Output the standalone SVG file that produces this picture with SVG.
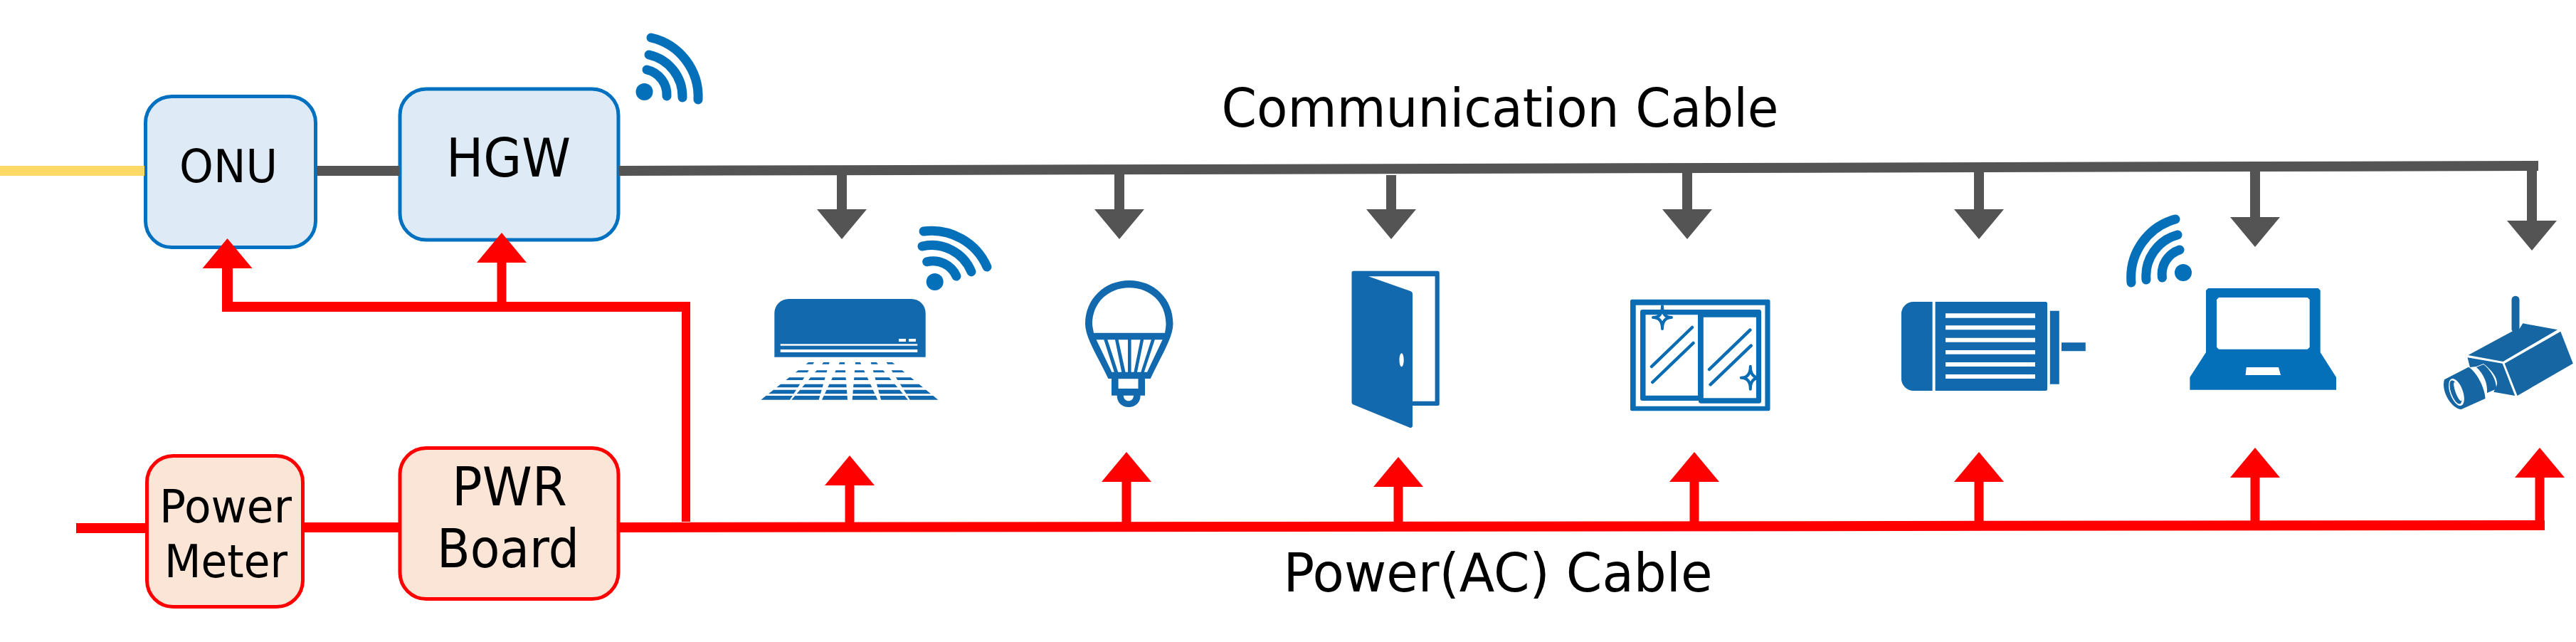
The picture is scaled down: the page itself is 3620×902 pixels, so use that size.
<svg xmlns="http://www.w3.org/2000/svg" width="3620" height="902" viewBox="0 0 3620 902">
<style>
text{font-family:"DejaVu Sans","Verdana",sans-serif;fill:#000;text-anchor:middle}
.s{font-size:64px}.l{font-size:74px}
.blue{fill:#DEEBF7;stroke:#0070C0;stroke-width:5}
.red{fill:#FBE5D6;stroke:#FF0000;stroke-width:5}
.i{fill:#1269AD;fill-rule:evenodd}
.w{fill:none;stroke:#0570BA;stroke-width:13;stroke-linecap:round}
.d{fill:#0570BA}
.g{stroke:#545454;stroke-width:14;fill:none}
.r{stroke:#FF0000;stroke-width:14;fill:none}
.ga{stroke:#545454;stroke-width:14;fill:none;marker-end:url(#ag)}
.ra{stroke:#FF0000;stroke-width:13;fill:none;marker-end:url(#ar)}
</style>
<defs>
<marker id="ag" markerUnits="userSpaceOnUse" orient="auto" refX="0" refY="35" markerWidth="44" markerHeight="70"><path d="M0 0L42 35L0 70z" fill="#545454"/></marker>
<marker id="ar" markerUnits="userSpaceOnUse" orient="auto" refX="0" refY="35" markerWidth="44" markerHeight="70"><path d="M0 0L42 35L0 70z" fill="#FF0000"/></marker>
</defs>
<rect width="3620" height="902" fill="#fff"/>
<g id="onu"><rect class="blue" x="204.500" y="135.500" width="239" height="212" rx="37"/><text class="s" x="321" y="256" textLength="138" lengthAdjust="spacingAndGlyphs">ONU</text></g>
<g id="hgw"><rect class="blue" x="562" y="125" width="307" height="212" rx="37"/><text class="l" x="714.500" y="248" textLength="175" lengthAdjust="spacingAndGlyphs">HGW</text></g>
<g id="meter"><rect class="red" x="206.500" y="640.500" width="219" height="212" rx="37"/><text class="s" x="317" y="734" textLength="186" lengthAdjust="spacingAndGlyphs">Power</text><text class="s" x="317.500" y="811" textLength="173" lengthAdjust="spacingAndGlyphs">Meter</text></g>
<g id="pwr"><rect class="red" x="562" y="629.500" width="307" height="212" rx="37"/><text class="l" x="716" y="710" textLength="162" lengthAdjust="spacingAndGlyphs">PWR</text><text class="l" x="714" y="797" textLength="200" lengthAdjust="spacingAndGlyphs">Board</text></g>
<g id="labels"><text class="l" x="2108" y="178" textLength="783" lengthAdjust="spacingAndGlyphs">Communication Cable</text><text class="l" x="2105" y="831" textLength="603" lengthAdjust="spacingAndGlyphs">Power(AC) Cable</text></g>
<g id="wifi-hgw"><circle class="d" cx="905.500" cy="129" r="12"/><path class="w" d="M909 98A36 36 0 0 1 937 135M912 77A60 60 0 0 1 959 137M915 53A85 85 0 0 1 981 140"/></g>
<g id="wifi-ac"><circle class="d" cx="1313.700" cy="396" r="12"/><path class="w" d="M1302.700 367.700A36 36 0 0 1 1344 388M1296 346A60 60 0 0 1 1365 381.700M1298 325A85 85 0 0 1 1387 375"/></g>
<g id="wifi-laptop"><circle class="d" cx="3068" cy="383" r="12"/><path class="w" d="M3063 351A36 36 0 0 0 3038.500 390M3060 330A60 60 0 0 0 3016 393M3057 308A85 85 0 0 0 2995 397"/></g>
<g id="air-conditioner"><path class="i" d="M1108.300 420H1280.700A20 20 0 0 1 1300.700 440V501.700H1088.300V440A20 20 0 0 1 1108.300 420ZM1096.700 483.300V485.700H1289.300V483.300ZM1096.700 491V495H1289.300V491ZM1263 476V480H1273V476ZM1277 476V480H1287V476Z
M1136 509H1144L1142.300 511.700H1132.600ZM1157.300 509H1165.700L1164.900 511.700H1155ZM1180 509H1187L1187.200 511.700H1178.700ZM1202 509H1209L1210.200 511.700H1201.800ZM1223.700 509H1231.700L1234 511.700H1224.400ZM1245.700 509H1254L1257.300 511.700H1247.400Z
M1121.700 520.300H1136.700L1134.800 523.300H1117.900ZM1147.700 520.300H1162.500L1161.600 523.300H1145.100ZM1174.600 520.300H1187.900L1188.100 523.300H1173.200ZM1201.100 520.300H1214.200L1215.600 523.300H1200.800ZM1226.800 520.300H1241.200L1243.700 523.300H1227.600ZM1252.800 520.300H1267.800L1271.400 523.300H1254.600Z
M1109.100 530.300H1130.300L1127.900 534H1104.400ZM1139.100 530.300H1159.600L1158.600 534H1136ZM1169.900 530.300H1188.600L1188.900 534H1168.200ZM1200.300 530.300H1218.800L1220.500 534H1200ZM1229.500 530.300H1249.600L1252.700 534H1230.500ZM1259 530.300H1280L1284.500 534H1261.300Z
M1097.100 539.700H1124.200L1121.200 544.300H1091.300ZM1131.100 539.700H1157L1155.700 544.300H1127.100ZM1165.400 539.700H1189.300L1189.700 544.300H1163.200ZM1199.500 539.700H1223.200L1225.300 544.300H1199.100ZM1232 539.700H1257.500L1261.400 544.300H1233.300ZM1264.900 539.700H1291.500L1297.100 544.300H1267.800Z
M1087 547.700H1119L1115.400 553.300H1079.900ZM1124.300 547.700H1154.700L1153 553.300H1119.500ZM1161.600 547.700H1189.900L1190.400 553.300H1159ZM1198.800 547.700H1226.800L1229.400 553.300H1198.400ZM1234.200 547.700H1264.200L1269 553.300H1235.700ZM1269.900 547.700H1301.200L1308.100 553.300H1273.500Z
M1076.500 556H1113.700L1110 561.700H1069.300ZM1117.200 556H1152.300L1150.700 561.700H1112.300ZM1157.700 556H1190.600L1191 561.700H1155ZM1198.200 556H1230.700L1233.300 561.700H1197.700ZM1236.500 556H1271.200L1276 561.700H1238ZM1275.100 556H1311.400L1318.300 561.700H1278.700Z"/></g>
<g id="bulb"><path class="i" d="M1557.400 532H1562V555.700H1569.700C1569.700 566 1577 572 1586 572C1595 572 1602.600 566 1602.600 555.700H1609V532H1616.700C1630 503 1648.500 475 1648.500 455C1648.500 420 1622 394 1587 394C1552 394 1525 420 1525 455C1525 475 1544 503 1557.400 532Z
M1537 467.700H1637C1638 462 1638.500 458 1638.500 455C1638.500 425 1616 404.300 1587 404.300C1558 404.300 1535 425 1535 455C1535 458 1536 462 1537 467.700Z
M1540.600 477.300H1551.300L1565.800 522.700H1562.400ZM1556.300 477.300H1567L1576.200 522.700H1571.200ZM1571.600 477.300H1585V522.700H1581.500ZM1589.600 477.300H1602.600L1593.400 522.700H1589.600ZM1607.200 477.300H1617.900L1603.300 522.700H1598ZM1622.800 477.300H1633.600L1612.100 522.700H1607.900Z
M1571.600 532.300H1599.500V546H1571.600ZM1578.800 555.700H1593C1593 560 1590 563.300 1586 563.300C1582 563.300 1578.800 560 1578.800 555.700Z"/></g>
<g id="door"><path class="i" d="M1902 380.700H2020.300A2.500 2.500 0 0 1 2022.800 383.200V567.500A2.500 2.500 0 0 1 2020.300 570H1985V598C1985 600.500 1983 601.500 1981 600.700L1902 568.500C1900.500 568 1899.500 567 1899.500 565V383.200A2.500 2.500 0 0 1 1902 380.700ZM1923 388.300L1982 409C1984 409.800 1985 411 1985 413V563.700H2016.600V388.300ZM1969.600 496.200C1967.800 496.200 1966.500 500.500 1966.500 505.700C1966.500 510.900 1967.800 515.200 1969.600 515.200C1971.400 515.200 1972.700 510.900 1972.700 505.700C1972.700 500.500 1971.400 496.200 1969.600 496.200Z"/></g>
<g id="window">
<path fill="#0A6CB2" fill-rule="evenodd" d="M2293.500 420.700H2485A2.500 2.500 0 0 1 2487.500 423.200V574.800A2.500 2.500 0 0 1 2485 577.300H2293.500A2.500 2.500 0 0 1 2291 574.800V423.200A2.500 2.500 0 0 1 2293.500 420.700ZM2298.700 428.700V570.700H2480.400V428.700ZM2308 435H2472A3 3 0 0 1 2475 438V563.700A3 3 0 0 1 2472 566.700H2390A3 3 0 0 1 2387 563V563H2308A3 3 0 0 1 2305 560V438A3 3 0 0 1 2308 435ZM2312.500 442.300V555.700H2386V442.300ZM2393.800 445.700V559.300H2467.900V445.700Z"/>
<path stroke="#0A6CB2" stroke-width="4.500" stroke-linecap="round" fill="none" d="M2321 515L2378 460M2322.300 537L2379.500 482M2402 519L2459.400 463.700M2403.600 540.300L2460.700 485.700"/>
<path fill="#fff" stroke="#0A6CB2" stroke-width="4" stroke-linejoin="round" d="M2336 430C2336 440 2340 446 2349 446C2340 446 2336 452 2336 462C2336 452 2332 446 2323 446C2332 446 2336 440 2336 430Z"/>
<path fill="#fff" stroke="#0A6CB2" stroke-width="4" stroke-linejoin="round" d="M2459.800 514.700C2459.800 524.700 2463.800 530.700 2472.800 530.700C2463.800 530.700 2459.800 536.700 2459.800 546.700C2459.800 536.700 2455.800 530.700 2446.800 530.700C2455.800 530.700 2459.800 524.700 2459.800 514.700Z"/>
</g>
<g id="motor"><path class="i" d="M2689 424H2715.600V549H2689A17 17 0 0 1 2671.900 532V441A17 17 0 0 1 2689 424ZM2722 424H2874.500A2.500 2.500 0 0 1 2877 426.500V546.500A2.500 2.500 0 0 1 2874.500 549H2719.600V424ZM2734 440.300V446.700H2860V440.300ZM2734 457.300V463.300H2860V457.300ZM2734 474.700V480.700H2860V474.700ZM2734 492V497.700H2860V492ZM2734 509V515H2860V509ZM2734 526V532H2860V526ZM2880.800 436.700H2893.800V539.700H2880.800ZM2897 481.300H2930.800V493.300H2897Z"/></g>
<g id="laptop"><path class="d" fill-rule="evenodd" d="M3103 405H3257.700L3260.700 408V495L3283 530V547.700H3077.400V530L3100 495V408ZM3118 418L3115 421V487.700L3118 490.700H3242.700L3245.700 487.700V421L3242.700 418ZM3156.800 516L3155.600 527H3205L3202 516Z"/></g>
<g id="camera" fill="#1566A2">
<rect x="3529.500" y="415.700" width="11" height="52" rx="5.500"/>
<path d="M3545.300 454.300L3594 463.300L3517.500 508L3468.400 499L3529.500 466L3540.500 462Z"/>
<path d="M3598.300 465.700L3615.800 510.700L3537.600 556L3519.700 510.700Z"/>
<path d="M3467.500 502.300L3516.700 510.700L3534.200 556L3504.300 550.700L3507 545C3512 538 3508 525 3490 511L3480 515L3471 516Z"/>
<path d="M3480 516L3490 512C3498 518 3508 532 3508 545L3507 547L3495 552C3496 538 3490 525 3480 516Z"/>
<path d="M3435 533.300L3469 515.700C3480 522 3492 545 3492.500 560L3458.500 575.300C3445 574 3430 550 3435 533.300Z"/>
<ellipse cx="3452" cy="551" rx="9" ry="20" transform="rotate(-20 3452 551)" fill="#fff"/>
<ellipse cx="3451" cy="551" rx="6.500" ry="17.500" transform="rotate(-20 3451 551)"/>
<ellipse cx="3454" cy="550" rx="3.500" ry="14" transform="rotate(-20 3454 550)" fill="#fff"/>
</g>
<g id="connectors">
<path stroke="#FFD966" stroke-width="14" d="M0 240H203" fill="none"/>
<path class="g" d="M445 240H561M870 240L3567 233"/>
<path class="r" d="M107 742H206M427 741H561M870 741L3576 738"/>
<path class="r" d="M312 431H970"/>
<path class="r" style="stroke-width:12" d="M964 431V733"/>
<path class="ga" d="M1183 238V294"/>
<path class="ga" d="M1573 237V294"/>
<path class="ga" d="M1955 246V294"/>
<path class="ga" d="M2371 236V294"/>
<path class="ga" d="M2781 235V294"/>
<path class="ga" d="M3169 234V305"/>
<path class="ga" d="M3558 233V310"/>
<path class="ra" style="stroke-width:15" d="M319.500 438V377"/>
<path class="ra" d="M705 431V369"/>
<path class="ra" d="M1194 741V682"/>
<path class="ra" d="M1583 741V677"/>
<path class="ra" d="M1965 740V684"/>
<path class="ra" d="M2381 740V677"/>
<path class="ra" d="M2781 739V677"/>
<path class="ra" d="M3169 739V671"/>
<path class="ra" d="M3569 738V671"/>
</g>
</svg>
